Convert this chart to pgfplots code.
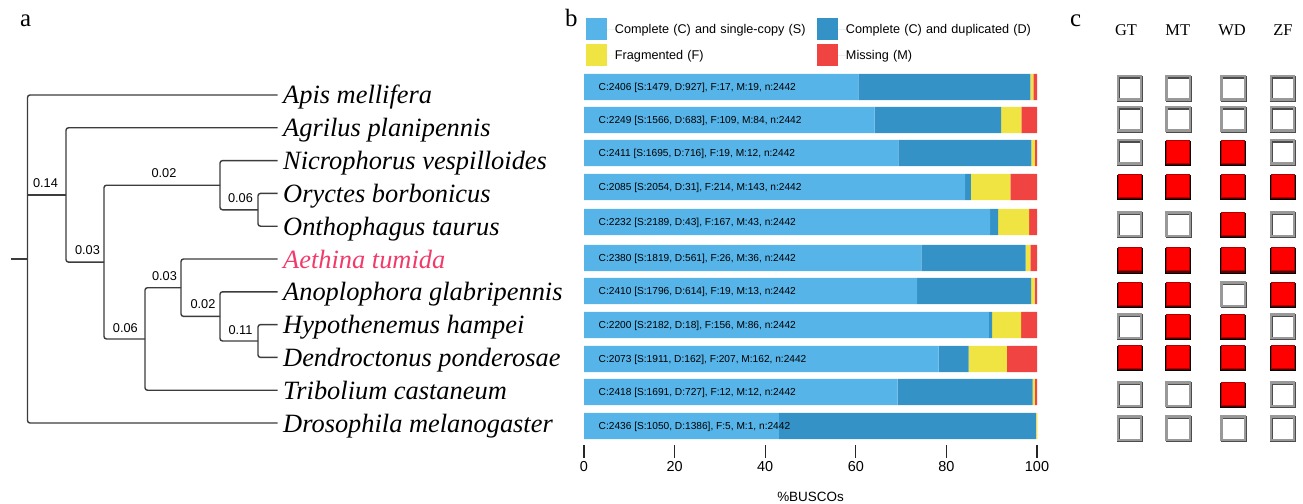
\documentclass[border=0pt]{standalone}
\usepackage{fontspec}
\setmainfont{Liberation Serif}
\newfontfamily\sansf{Liberation Sans}
\usepackage{pgfplots}
\usepackage{pgfplotstable}
\pgfplotsset{compat=1.18}
\definecolor{cS}{HTML}{56B4E9}
\definecolor{cD}{HTML}{3492C7}
\definecolor{cF}{HTML}{F0E442}
\definecolor{cM}{HTML}{F04442}
\definecolor{treec}{HTML}{3C3C3C}
\definecolor{pinkc}{HTML}{F23A6A}
\definecolor{sqred}{HTML}{FF0000}

% BUSCO percentages (of n=2442); y = pixel row of each bar (from top)
\pgfplotstableread{
y     S      D      F     M
87    60.565 37.961 0.696 0.778
120   64.128 27.969 4.464 3.440
153   69.410 29.320 0.778 0.491
187   84.111 1.269  8.763 5.856
222   89.640 1.761  6.839 1.761
258   74.488 22.973 1.065 1.474
291   73.546 25.143 0.778 0.532
325   89.353 0.737  6.388 3.522
359   78.256 6.634  8.477 6.634
392   69.247 29.771 0.491 0.491
426   42.998 56.757 0.205 0.041
}\busco

\pgfplotsset{
  tree/.style={draw=treec, line width=1.4bp, rounded corners=2.5bp, no markers},
}
\tikzset{
  sp/.style={anchor=base west, inner sep=0pt, font=\fontsize{26.5}{30}\selectfont\itshape},
  bl/.style={anchor=center, inner sep=0pt, text height=9.2bp, text depth=0pt, font=\fontsize{12.8}{14}\selectfont\sansf},
  pl/.style={anchor=base west, inner sep=0pt, font=\fontsize{25}{28}\selectfont},
  hd/.style={anchor=base, inner sep=0pt, font=\fontsize{16.5}{18}\selectfont},
  bt/.style={anchor=west, inner sep=0pt, text height=7.3bp, text depth=0pt, font=\fontsize{10.2}{12}\selectfont\sansf},
}

\begin{document}
\begin{tikzpicture}
\useasboundingbox (0,0) rectangle (1303bp,504bp);

% ---------- panel b: BUSCO bars ----------
\begin{axis}[at={(584bp,59bp)}, anchor=south west, scale only axis,
  width=453bp, height=385bp, xmin=0, xmax=100, ymin=60, ymax=445,
  y dir=reverse,
  xbar stacked, bar width=26.3,
  axis y line=none, axis x line*=bottom, x axis line style={draw=none},
  xtick={0,20,40,60,80,100}, xtick align=outside, major tick length=12.5bp,
  tick style={black!85, line width=1.3bp},
  /pgf/number format/assume math mode=true,
  xticklabel style={font=\fontsize{14.5}{16}\selectfont\sansf},
  xlabel={\%BUSCOs},
  xlabel style={font=\fontsize{13.5}{15}\selectfont\sansf, yshift=-14bp},
  legend columns=2, legend cell align=left,
  legend image code/.code={\fill[#1] (0bp,-11bp) rectangle (21bp,11bp); \path (0bp,0bp) -- (29bp,0bp);},
  legend style={at={(axis description cs:0.0044,1.109)}, anchor=north west, draw=none, fill=none,
    inner sep=0pt, outer sep=0pt, column sep=0pt, row sep=4bp,
    font=\fontsize{12.7}{14}\selectfont\sansf,
    nodes={text width=202bp, inner sep=0pt, text height=9.1bp, text depth=0pt}}]
\addplot[fill=cS, draw=none] table[x=S, y=y] {\busco};
\addplot[fill=cD, draw=none] table[x=D, y=y] {\busco};
\addplot[fill=cF, draw=none] table[x=F, y=y] {\busco};
\addplot[fill=cM, draw=none] table[x=M, y=y] {\busco};
\legend{Complete (C) and single-copy (S), Complete (C) and duplicated (D), Fragmented (F), Missing (M)}
\end{axis}

% ---------- panels a, c and all texts (pixel coordinates) ----------
\begin{axis}[at={(0,0)}, anchor=south west, scale only axis,
  width=1303bp, height=504bp, xmin=0, xmax=1303, ymin=0, ymax=504,
  y dir=reverse, hide axis, clip=false]
% tree
\addplot[tree] coordinates {(277.5,95) (27.5,95) (27.5,423) (277.5,423)};
\addplot[tree] coordinates {(11,259) (27.5,259)};
\addplot[tree] coordinates {(27.5,194.9) (66,194.9)};
\addplot[tree] coordinates {(277.5,127.8) (66,127.8) (66,262.1) (104,262.1)};
\addplot[tree] coordinates {(220,185.2) (104,185.2) (104,338.95) (145,338.95)};
\addplot[tree] coordinates {(277.5,160.6) (220,160.6) (220,209.8) (258,209.8)};
\addplot[tree] coordinates {(277.5,193.4) (258,193.4) (258,226.2) (277.5,226.2)};
\addplot[tree] coordinates {(181,287.7) (145,287.7) (145,390.2) (277.5,390.2)};
\addplot[tree] coordinates {(277.5,259) (181,259) (181,316.4) (220,316.4)};
\addplot[tree] coordinates {(277.5,291.8) (220,291.8) (220,341) (258,341)};
\addplot[tree] coordinates {(277.5,324.6) (258,324.6) (258,357.4) (277.5,357.4)};

% panel c: empty squares (shadow + frame)
\addplot[only marks, mark=square, mark size=11.6bp,
  mark options={draw=black!70, line width=2.6bp, xshift=0.6bp, yshift=-1.0bp}]
coordinates {(1129.5,88) (1178,88) (1233,88) (1282.5,88)
 (1129.5,119) (1178,119) (1233,119) (1282.5,119)
 (1129.5,152) (1282.5,152)
 (1129.5,224) (1178,224) (1282.5,224)
 (1233,294)
 (1129.5,326) (1282.5,326)
 (1129.5,394) (1178,394) (1282.5,394)
 (1129.5,428) (1178,428) (1233,428) (1282.5,428)};
\addplot[only marks, mark=square, mark size=11.6bp,
  mark options={draw=black!40, line width=2.2bp}]
coordinates {(1129.5,88) (1178,88) (1233,88) (1282.5,88)
 (1129.5,119) (1178,119) (1233,119) (1282.5,119)
 (1129.5,152) (1282.5,152)
 (1129.5,224) (1178,224) (1282.5,224)
 (1233,294)
 (1129.5,326) (1282.5,326)
 (1129.5,394) (1178,394) (1282.5,394)
 (1129.5,428) (1178,428) (1233,428) (1282.5,428)};
% panel c: red squares (shadow + fill)
\addplot[only marks, mark=square*, mark size=12.4bp,
  mark options={fill=red!35!black, draw=none, yshift=-1.2bp}]
coordinates {(1178,152) (1233,152)
 (1129.5,186) (1178,186) (1233,186) (1282.5,186)
 (1233,224)
 (1129.5,259.5) (1178,259.5) (1233,259.5) (1282.5,259.5)
 (1129.5,294) (1178,294) (1282.5,294)
 (1178,326) (1233,326)
 (1129.5,357) (1178,357) (1233,357) (1282.5,357)
 (1233,394)};
\addplot[only marks, mark=square*, mark size=11.6bp,
  mark options={fill=sqred, draw=red!70!black, line width=0.8bp, yshift=0.4bp}]
coordinates {(1178,152) (1233,152)
 (1129.5,186) (1178,186) (1233,186) (1282.5,186)
 (1233,224)
 (1129.5,259.5) (1178,259.5) (1233,259.5) (1282.5,259.5)
 (1129.5,294) (1178,294) (1282.5,294)
 (1178,326) (1233,326)
 (1129.5,357) (1178,357) (1233,357) (1282.5,357)
 (1233,394)};

% species names
\node[sp] at (axis cs:283,104) {Apis mellifera};
\node[sp] at (axis cs:283,136.8) {Agrilus planipennis};
\node[sp] at (axis cs:283,169.6) {Nicrophorus vespilloides};
\node[sp] at (axis cs:283,202.4) {Oryctes borbonicus};
\node[sp] at (axis cs:283,235.2) {Onthophagus taurus};
\node[sp, text=pinkc] at (axis cs:283,268) {Aethina tumida};
\node[sp] at (axis cs:283,300.8) {Anoplophora glabripennis};
\node[sp] at (axis cs:283,333.6) {Hypothenemus hampei};
\node[sp] at (axis cs:283,366.4) {Dendroctonus ponderosae};
\node[sp] at (axis cs:283,399.2) {Tribolium castaneum};
\node[sp] at (axis cs:283,432) {Drosophila melanogaster};

% branch lengths
\node[bl] at (axis cs:45.5,182.5) {0.14};
\node[bl] at (axis cs:87.5,250) {0.03};
\node[bl] at (axis cs:164,172.5) {0.02};
\node[bl] at (axis cs:240.5,197.5) {0.06};
\node[bl] at (axis cs:125.4,327.5) {0.06};
\node[bl] at (axis cs:164.5,275.7) {0.03};
\node[bl] at (axis cs:203,304) {0.02};
\node[bl] at (axis cs:240.5,330) {0.11};

% panel letters and headers
\node[pl] at (axis cs:20,27) {a};
\node[pl] at (axis cs:565,27) {b};
\node[pl] at (axis cs:1070,27) {c};
\node[hd] at (axis cs:1126,36) {GT};
\node[hd] at (axis cs:1177.7,36) {MT};
\node[hd] at (axis cs:1232,36) {WD};
\node[hd] at (axis cs:1283,36) {ZF};

% BUSCO summary texts inside bars
\node[bt] at (axis cs:598.5,87) {C:2406 [S:1479, D:927], F:17, M:19, n:2442};
\node[bt] at (axis cs:598.5,120) {C:2249 [S:1566, D:683], F:109, M:84, n:2442};
\node[bt] at (axis cs:598.5,153) {C:2411 [S:1695, D:716], F:19, M:12, n:2442};
\node[bt] at (axis cs:598.5,187) {C:2085 [S:2054, D:31], F:214, M:143, n:2442};
\node[bt] at (axis cs:598.5,222) {C:2232 [S:2189, D:43], F:167, M:43, n:2442};
\node[bt] at (axis cs:598.5,258) {C:2380 [S:1819, D:561], F:26, M:36, n:2442};
\node[bt] at (axis cs:598.5,291) {C:2410 [S:1796, D:614], F:19, M:13, n:2442};
\node[bt] at (axis cs:598.5,325) {C:2200 [S:2182, D:18], F:156, M:86, n:2442};
\node[bt] at (axis cs:598.5,359) {C:2073 [S:1911, D:162], F:207, M:162, n:2442};
\node[bt] at (axis cs:598.5,392) {C:2418 [S:1691, D:727], F:12, M:12, n:2442};
\node[bt] at (axis cs:598.5,426) {C:2436 [S:1050, D:1386], F:5, M:1, n:2442};
\end{axis}
\end{tikzpicture}
\end{document}
